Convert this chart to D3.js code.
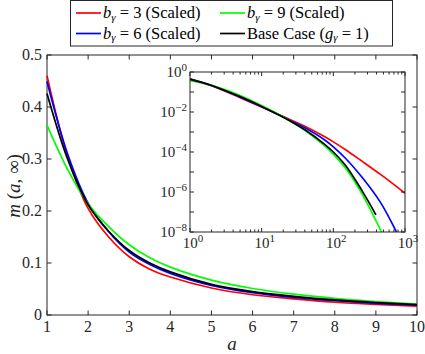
<!DOCTYPE html>
<html>
<head>
<meta charset="utf-8">
<script src="https://cdn.jsdelivr.net/npm/d3@7"></script>
<style>
  body { margin: 0; background: #fff; }
</style>
</head>
<body>
<script>
// main plot: m(a, inf) against a
var aMain = [1, 1.5, 2, 2.5, 3, 3.5, 4, 5, 6, 7, 8, 9, 10];
var mainB3 = [0.46, 0.305, 0.205, 0.15, 0.112, 0.088, 0.073, 0.052, 0.039, 0.031, 0.0245, 0.0203, 0.0172];
var mainB6 = [0.449, 0.31, 0.215, 0.16, 0.121, 0.097, 0.080, 0.057, 0.043, 0.034, 0.0275, 0.0225, 0.0188];
var mainB9 = [0.365, 0.28, 0.214, 0.17, 0.135, 0.110, 0.092, 0.067, 0.051, 0.040, 0.032, 0.026, 0.021];
var mainBase = [0.426, 0.30, 0.212, 0.161, 0.124, 0.100, 0.083, 0.059, 0.045, 0.036, 0.029, 0.024, 0.020];

// inset (log-log)
var aInB3 = [1, 2, 5, 10, 20, 40, 75, 100, 150, 250, 450, 750, 1000];
var inB3 = [0.46, 0.205, 0.052, 1.78e-2, 5.9e-3, 1.95e-3, 5.9e-4, 3.2e-4, 1.26e-4, 3.5e-5, 7.8e-6, 1.95e-6, 8.5e-7];
var aInB6 = [1, 2, 5, 10, 20, 40, 75, 100, 150, 250, 450, 760];
var inB6 = [0.449, 0.215, 0.057, 1.82e-2, 5.6e-3, 1.62e-3, 4.1e-4, 1.82e-4, 4.6e-5, 5.6e-6, 3.2e-7, 1e-8];
var aInB9 = [1, 2, 5, 10, 20, 40, 75, 100, 150, 250, 470];
var inB9 = [0.365, 0.214, 0.067, 2.1e-2, 5.6e-3, 1.23e-3, 2.1e-4, 7.9e-5, 1.45e-5, 8.3e-7, 1e-8];
var aInBase = [1, 2, 5, 10, 20, 40, 75, 100, 150, 250, 393];
var inBase = [0.426, 0.212, 0.059, 1.9e-2, 5.5e-3, 1.29e-3, 2.5e-4, 1.0e-4, 2.0e-5, 1.2e-6, 7.2e-8];

var xTicks = [1, 2, 3, 4, 5, 6, 7, 8, 9, 10];
var yTicks = [0, 0.1, 0.2, 0.3, 0.4, 0.5];
var inXExp = [0, 1, 2, 3];
var inYExp = [0, -1, -2, -3, -4, -5, -6, -7, -8];

var W = 425, H = 354;
var axisCol = "#262626";
var FONT = "Liberation Serif";

var svg = d3.select("body").append("svg")
  .attr("width", W)
  .attr("height", H);

function txt(g) {
  return g.append("text").attr("font-family", FONT);
}

var x = d3.scaleLinear().domain([1, 10]).range([47, 417]);
var y = d3.scaleLinear().domain([0, 0.5]).range([315, 55]);

// main frame
svg.append("rect")
  .attr("x", x(1)).attr("y", y(0.5))
  .attr("width", x(10) - x(1)).attr("height", y(0) - y(0.5))
  .attr("fill", "#fff").attr("stroke", axisCol).attr("stroke-width", 1);

// ticks (inward, all four sides)
var tl = 4.5;
xTicks.forEach(function(t) {
  svg.append("line").attr("x1", x(t)).attr("x2", x(t)).attr("y1", y(0)).attr("y2", y(0) - tl).attr("stroke", axisCol);
  svg.append("line").attr("x1", x(t)).attr("x2", x(t)).attr("y1", y(0.5)).attr("y2", y(0.5) + tl).attr("stroke", axisCol);
  txt(svg).attr("x", x(t)).attr("y", y(0) + 17).attr("fill", axisCol)
    .attr("text-anchor", "middle").attr("font-size", 16).text(t);
});
yTicks.forEach(function(t) {
  svg.append("line").attr("x1", x(1)).attr("x2", x(1) + tl).attr("y1", y(t)).attr("y2", y(t)).attr("stroke", axisCol);
  svg.append("line").attr("x1", x(10)).attr("x2", x(10) - tl).attr("y1", y(t)).attr("y2", y(t)).attr("stroke", axisCol);
  txt(svg).attr("x", x(1) - 5).attr("y", y(t) + 5).attr("fill", axisCol)
    .attr("text-anchor", "end").attr("font-size", 16).text(t);
});

// axis labels
txt(svg).attr("x", (x(1) + x(10)) / 2).attr("y", 350).attr("fill", axisCol)
  .attr("text-anchor", "middle").attr("font-size", 19).attr("font-style", "italic").text("a");
var yl = txt(svg).attr("transform", "translate(20," + 186 + ") rotate(-90)")
  .attr("text-anchor", "middle").attr("font-size", 19).attr("fill", axisCol);
yl.append("tspan").attr("font-style", "italic").text("m");
yl.append("tspan").text(" (");
yl.append("tspan").attr("font-style", "italic").text("a");
yl.append("tspan").text(", \u221E)");

var series = [
  { a: aMain, m: mainB3, ia: aInB3, im: inB3, color: "#ff0000" },
  { a: aMain, m: mainB6, ia: aInB6, im: inB6, color: "#0000ff" },
  { a: aMain, m: mainB9, ia: aInB9, im: inB9, color: "#00ff00" },
  { a: aMain, m: mainBase, ia: aInBase, im: inBase, color: "#000000" }
];

var line = d3.line().curve(d3.curveCatmullRom.alpha(0.5));
series.forEach(function(s) {
  var pts = s.a.map(function(a, i) { return [x(a), y(s.m[i])]; });
  svg.append("path").attr("d", line(pts))
    .attr("fill", "none").attr("stroke", s.color).attr("stroke-width", 1.7);
});

// inset
var xi = d3.scaleLog().domain([1, 1000]).range([190, 405]);
var yi = d3.scaleLog().domain([1e-8, 1]).range([232, 72]);
var inset = svg.append("g");
inset.append("rect")
  .attr("x", xi(1)).attr("y", yi(1))
  .attr("width", xi(1000) - xi(1)).attr("height", yi(1e-8) - yi(1))
  .attr("fill", "#fff");

svg.append("clipPath").attr("id", "inclip").append("rect")
  .attr("x", xi(1)).attr("y", yi(1))
  .attr("width", xi(1000) - xi(1)).attr("height", yi(1e-8) - yi(1));

series.forEach(function(s) {
  var pts = s.ia.map(function(a, i) { return [xi(a), yi(s.im[i])]; });
  inset.append("path").attr("d", line(pts)).attr("clip-path", "url(#inclip)")
    .attr("fill", "none").attr("stroke", s.color).attr("stroke-width", 1.7);
});

inset.append("rect")
  .attr("x", xi(1)).attr("y", yi(1))
  .attr("width", xi(1000) - xi(1)).attr("height", yi(1e-8) - yi(1))
  .attr("fill", "none").attr("stroke", axisCol).attr("stroke-width", 1);

function supLabel(g, px, py, exp, anchor) {
  var t = txt(g).attr("x", px).attr("y", py).attr("fill", axisCol)
    .attr("text-anchor", anchor).attr("font-size", 15);
  t.append("tspan").text("10");
  t.append("tspan").attr("dy", -6).attr("font-size", 11)
    .text(exp < 0 ? "\u2212" + (-exp) : exp);
}

// inset x ticks (major + minor)
inXExp.forEach(function(e) {
  var v = Math.pow(10, e);
  inset.append("line").attr("x1", xi(v)).attr("x2", xi(v)).attr("y1", yi(1e-8)).attr("y2", yi(1e-8) - 4).attr("stroke", axisCol);
  inset.append("line").attr("x1", xi(v)).attr("x2", xi(v)).attr("y1", yi(1)).attr("y2", yi(1) + 4).attr("stroke", axisCol);
  supLabel(inset, xi(v) + 3, yi(1e-8) + 16, e, "middle");
  if (e < 3) {
    d3.range(2, 10).forEach(function(m) {
      var mv = m * v;
      inset.append("line").attr("x1", xi(mv)).attr("x2", xi(mv)).attr("y1", yi(1e-8)).attr("y2", yi(1e-8) - 2.5).attr("stroke", axisCol);
      inset.append("line").attr("x1", xi(mv)).attr("x2", xi(mv)).attr("y1", yi(1)).attr("y2", yi(1) + 2.5).attr("stroke", axisCol);
    });
  }
});
// inset y ticks
inYExp.forEach(function(e) {
  var v = Math.pow(10, e);
  inset.append("line").attr("x1", xi(1)).attr("x2", xi(1) + 4).attr("y1", yi(v)).attr("y2", yi(v)).attr("stroke", axisCol);
  inset.append("line").attr("x1", xi(1000)).attr("x2", xi(1000) - 4).attr("y1", yi(v)).attr("y2", yi(v)).attr("stroke", axisCol);
  if (e % 2 === 0) supLabel(inset, xi(1) - 3, yi(v) + 5, e, "end");
});

// legend
var lg = svg.append("g");
lg.append("rect").attr("x", 70.5).attr("y", 0.5).attr("width", 322).attr("height", 45.5)
  .attr("fill", "#fff").attr("stroke", axisCol).attr("stroke-width", 1);

var legendItems = [
  { color: "#ff0000", col: 0, row: 0, kind: "b", val: "3" },
  { color: "#00ff00", col: 1, row: 0, kind: "b", val: "9" },
  { color: "#0000ff", col: 0, row: 1, kind: "b", val: "6" },
  { color: "#000000", col: 1, row: 1, kind: "base" }
];
var colX = [76, 220];
var rowY = [13, 33.5];
legendItems.forEach(function(d) {
  var lx = colX[d.col], ly = rowY[d.row];
  lg.append("line").attr("x1", lx).attr("x2", lx + 25).attr("y1", ly).attr("y2", ly)
    .attr("stroke", d.color).attr("stroke-width", 1.7);
  var t = txt(lg).attr("x", lx + 27).attr("y", ly + 5).attr("font-size", 16.5).attr("fill", "#000");
  if (d.kind === "b") {
    t.append("tspan").attr("font-style", "italic").text("b");
    t.append("tspan").attr("font-size", 11).attr("dy", 2.5).attr("font-style", "italic").text("\u03B3");
    t.append("tspan").attr("dy", -2.5).text(" = " + d.val + " (Scaled)");
  } else {
    t.append("tspan").text("Base Case (");
    t.append("tspan").attr("font-style", "italic").text("g");
    t.append("tspan").attr("font-size", 11).attr("dy", 2.5).attr("font-style", "italic").text("\u03B3");
    t.append("tspan").attr("dy", -2.5).text(" = 1)");
  }
});
</script>
</body>
</html>
